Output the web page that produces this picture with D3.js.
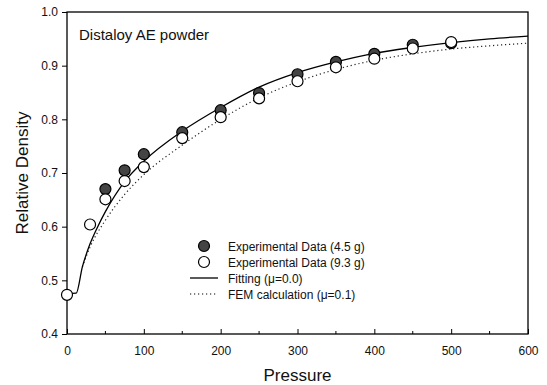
<!DOCTYPE html>
<html>
<head>
<meta charset="utf-8">
<script src="https://cdn.jsdelivr.net/npm/d3@7"></script>
<style>
  body { margin: 0; background: #fff; }
  text { font-family: Arial, "Liberation Sans", sans-serif; fill: #111; }
</style>
</head>
<body>
<svg id="chart"></svg>
<script>
const pressure45 = [50, 75, 100, 150, 200, 250, 300, 350, 400, 450, 500];
const density45 = [0.670, 0.705, 0.735, 0.776, 0.817, 0.849, 0.884, 0.907, 0.922, 0.939, 0.942];

const pressure93 = [0, 30, 50, 75, 100, 150, 200, 250, 300, 350, 400, 450, 500];
const density93 = [0.473, 0.604, 0.651, 0.685, 0.711, 0.765, 0.804, 0.839, 0.871, 0.897, 0.913, 0.932, 0.944];

// fitted curve (mu = 0.0)
const fitP = [0, 12, 20, 30, 40, 50, 75, 100, 150, 200, 250, 300, 350, 400, 450, 500, 550, 600];
const fitD = [0.475, 0.476, 0.525, 0.568, 0.600, 0.628, 0.684, 0.722, 0.778, 0.822, 0.860, 0.887, 0.907, 0.923, 0.934, 0.943, 0.950, 0.955];

// FEM calculation (mu = 0.1)
const femP = [20, 30, 50, 75, 100, 150, 200, 250, 300, 350, 400, 450, 500, 550, 600];
const femD = [0.525, 0.562, 0.612, 0.660, 0.697, 0.752, 0.800, 0.840, 0.870, 0.893, 0.910, 0.922, 0.931, 0.937, 0.942];

const xTicks = [0, 100, 200, 300, 400, 500, 600];
const yTicks = [0.4, 0.5, 0.6, 0.7, 0.8, 0.9, 1.0];

const width = 547, height = 385;
const plotL = 67, plotR = 528, plotT = 12, plotB = 334;

const svg = d3.select("#chart")
  .attr("width", width)
  .attr("height", height);

const x = d3.scaleLinear().domain([0, 600]).range([plotL, plotR]);
const y = d3.scaleLinear().domain([0.4, 1.0]).range([plotB, plotT]);

// frame
svg.append("rect")
  .attr("x", plotL).attr("y", plotT)
  .attr("width", plotR - plotL).attr("height", plotB - plotT)
  .attr("fill", "none").attr("stroke", "#000").attr("stroke-width", 1.3);

// x axis: ticks pointing inward, minor at 50s
const xAxis = svg.append("g")
  .attr("transform", `translate(0,${plotB})`)
  .call(d3.axisBottom(x).tickValues(xTicks).tickSizeInner(-5).tickSizeOuter(0).tickPadding(12).tickFormat(d3.format("d")));
xAxis.select(".domain").remove();
xAxis.selectAll("text").attr("font-size", 12);

svg.append("g")
  .attr("transform", `translate(0,${plotB})`)
  .selectAll("line")
  .data(d3.range(50, 600, 100))
  .join("line")
  .attr("x1", d => x(d)).attr("x2", d => x(d))
  .attr("y1", 0).attr("y2", -3)
  .attr("stroke", "#000");

// y axis: ticks outward
const yAxis = svg.append("g")
  .attr("transform", `translate(${plotL},0)`)
  .call(d3.axisLeft(y).tickValues(yTicks).tickSize(5).tickPadding(4).tickFormat(d3.format(".1f")));
yAxis.select(".domain").remove();
yAxis.selectAll("text").attr("font-size", 12);

// axis titles
svg.append("text")
  .attr("x", (plotL + plotR) / 2).attr("y", 381)
  .attr("text-anchor", "middle")
  .attr("font-size", 17)
  .text("Pressure");

svg.append("text")
  .attr("transform", `translate(28,${(plotT + plotB) / 2}) rotate(-90)`)
  .attr("text-anchor", "middle")
  .attr("font-size", 17)
  .text("Relative Density");

svg.append("text")
  .attr("x", 79).attr("y", 40)
  .attr("font-size", 15)
  .text("Distaloy AE powder");

// curves
const line = d3.line().x(d => x(d[0])).y(d => y(d[1])).curve(d3.curveMonotoneX);

svg.append("path")
  .datum(d3.zip(femP, femD))
  .attr("d", line)
  .attr("fill", "none").attr("stroke", "#222")
  .attr("stroke-width", 1.2).attr("stroke-dasharray", "1.2,2.8");

svg.append("path")
  .datum(d3.zip(fitP, fitD))
  .attr("d", line)
  .attr("fill", "none").attr("stroke", "#000").attr("stroke-width", 1.3);

// markers
svg.append("g")
  .selectAll("circle")
  .data(d3.zip(pressure45, density45))
  .join("circle")
  .attr("cx", d => x(d[0])).attr("cy", d => y(d[1]))
  .attr("r", 5.5)
  .attr("fill", "#444").attr("stroke", "#000").attr("stroke-width", 1.2);

svg.append("g")
  .selectAll("circle")
  .data(d3.zip(pressure93, density93))
  .join("circle")
  .attr("cx", d => x(d[0])).attr("cy", d => y(d[1]))
  .attr("r", 5.5)
  .attr("fill", "#fff").attr("stroke", "#000").attr("stroke-width", 1.2);

// legend
const legendItems = [
  { label: "Experimental Data (4.5 g)", type: "filled" },
  { label: "Experimental Data (9.3 g)", type: "open" },
  { label: "Fitting (\u03bc=0.0)", type: "solid" },
  { label: "FEM calculation (\u03bc=0.1)", type: "dotted" }
];

const legend = svg.append("g").attr("transform", "translate(190,246)");
const row = legend.selectAll("g")
  .data(legendItems)
  .join("g")
  .attr("transform", (d, i) => `translate(0,${i * 16})`);

row.filter(d => d.type === "filled" || d.type === "open")
  .append("circle")
  .attr("cx", 14).attr("cy", 0).attr("r", 5.5)
  .attr("fill", d => d.type === "filled" ? "#444" : "#fff")
  .attr("stroke", "#000").attr("stroke-width", 1.2);

row.filter(d => d.type === "solid" || d.type === "dotted")
  .append("line")
  .attr("x1", 0).attr("x2", 28).attr("y1", 0).attr("y2", 0)
  .attr("stroke", "#000")
  .attr("stroke-width", d => d.type === "solid" ? 1.3 : 1.2)
  .attr("stroke-dasharray", d => d.type === "dotted" ? "1.2,2.8" : null);

row.append("text")
  .attr("x", 38).attr("y", 4.5)
  .attr("font-size", 12)
  .text(d => d.label);
</script>
</body>
</html>
